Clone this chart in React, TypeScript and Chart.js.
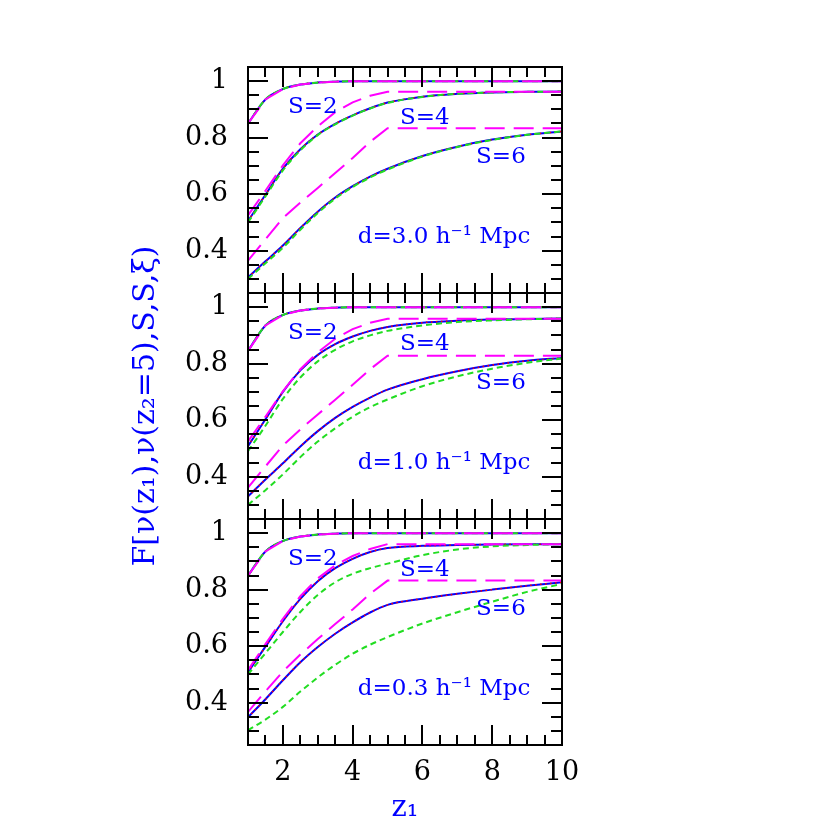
import React, { useEffect, useRef } from 'react';
import { Chart, registerables } from 'chart.js';

Chart.register(...registerables);

// ---------- data ----------
const zValues = [1, 1.5, 2, 2.5, 3, 3.5, 4, 4.5, 5, 6, 7, 8, 9, 10];
const xTickValues = [2, 4, 6, 8, 10];
const xTickLabels = ['2', '4', '6', '8', '10'];
const yTickValues = [0.4, 0.6, 0.8, 1];
const yTickLabels = ['0.4', '0.6', '0.8', '1'];
const panelTexts = ['d=3.0 h\u207B\u00B9 Mpc', 'd=1.0 h\u207B\u00B9 Mpc', 'd=0.3 h\u207B\u00B9 Mpc'];
const sTexts = ['S=2', 'S=4', 'S=6'];
const yTitle = 'F[\u03BD(z\u2081),\u03BD(z\u2082=5),S,S,\u03BE)';
const xTitle = 'z\u2081';

// panel 1: d = 3.0
const p1S2 = [0.85, 0.935, 0.972, 0.988, 0.995, 0.998, 1, 1, 1, 1, 1, 1, 1, 1];
const p1Blue4 = [0.505, 0.598, 0.69, 0.759, 0.811, 0.849, 0.879, 0.904, 0.924, 0.945, 0.955, 0.96, 0.962, 0.963];
const p1Green4 = [0.5, 0.592, 0.684, 0.755, 0.809, 0.847, 0.878, 0.903, 0.923, 0.944, 0.955, 0.96, 0.962, 0.963];
const p1Mag4 = [0.525, 0.612, 0.702, 0.78, 0.84, 0.89, 0.925, 0.948, 0.962, 0.962, 0.962, 0.962, 0.962, 0.962];
const p1Blue6 = [0.305, 0.362, 0.418, 0.48, 0.538, 0.588, 0.628, 0.662, 0.69, 0.735, 0.768, 0.793, 0.81, 0.822];
const p1Green6 = [0.3, 0.355, 0.41, 0.474, 0.533, 0.584, 0.625, 0.659, 0.687, 0.733, 0.767, 0.792, 0.81, 0.822];
const p1Mag6 = [0.365, 0.44, 0.515, 0.57, 0.622, 0.675, 0.728, 0.785, 0.833, 0.833, 0.833, 0.833, 0.833, 0.833];

// panel 2: d = 1.0
const p2S2 = [0.845, 0.935, 0.972, 0.988, 0.995, 0.998, 1, 1, 1, 1, 1, 1, 1, 1];
const p2Blue4 = [0.508, 0.603, 0.7, 0.776, 0.831, 0.869, 0.896, 0.916, 0.93, 0.945, 0.952, 0.956, 0.958, 0.96];
const p2Green4 = [0.49, 0.58, 0.675, 0.751, 0.808, 0.849, 0.879, 0.9, 0.916, 0.935, 0.947, 0.953, 0.957, 0.96];
const p2Mag4 = [0.525, 0.612, 0.702, 0.78, 0.84, 0.888, 0.922, 0.945, 0.959, 0.959, 0.959, 0.959, 0.959, 0.959];
const p2Blue6 = [0.33, 0.39, 0.447, 0.507, 0.561, 0.608, 0.647, 0.68, 0.708, 0.745, 0.773, 0.795, 0.81, 0.82];
const p2Green6 = [0.3, 0.352, 0.408, 0.469, 0.524, 0.571, 0.612, 0.646, 0.673, 0.72, 0.755, 0.782, 0.803, 0.818];
const p2Mag6 = [0.361, 0.436, 0.51, 0.567, 0.62, 0.672, 0.725, 0.78, 0.828, 0.828, 0.828, 0.828, 0.828, 0.828];

// panel 3: d = 0.3
const p3S2 = [0.849, 0.935, 0.972, 0.988, 0.995, 0.998, 1, 1, 1, 1, 1, 1, 1, 1];
const p3Blue4 = [0.508, 0.598, 0.688, 0.767, 0.83, 0.876, 0.909, 0.933, 0.947, 0.955, 0.958, 0.96, 0.961, 0.961];
const p3Green4 = [0.5, 0.575, 0.65, 0.721, 0.781, 0.826, 0.856, 0.876, 0.892, 0.922, 0.942, 0.953, 0.958, 0.961];
const p3Mag4 = [0.515, 0.607, 0.697, 0.777, 0.84, 0.886, 0.919, 0.944, 0.961, 0.961, 0.961, 0.961, 0.961, 0.961];
const p3Blue6 = [0.348, 0.412, 0.479, 0.543, 0.597, 0.644, 0.684, 0.719, 0.746, 0.768, 0.785, 0.8, 0.814, 0.826];
const p3Green6 = [0.302, 0.34, 0.385, 0.439, 0.489, 0.534, 0.573, 0.605, 0.632, 0.68, 0.72, 0.757, 0.792, 0.82];
const p3Mag6 = [0.367, 0.44, 0.51, 0.57, 0.625, 0.678, 0.73, 0.785, 0.832, 0.832, 0.832, 0.832, 0.832, 0.832];

const panels = [
  { text: panelTexts[0], blue: [p1S2, p1Blue4, p1Blue6], green: [p1S2, p1Green4, p1Green6], mag: [p1S2, p1Mag4, p1Mag6] },
  { text: panelTexts[1], blue: [p2S2, p2Blue4, p2Blue6], green: [p2S2, p2Green4, p2Green6], mag: [p2S2, p2Mag4, p2Mag6] },
  { text: panelTexts[2], blue: [p3S2, p3Blue4, p3Blue6], green: [p3S2, p3Green4, p3Green6], mag: [p3S2, p3Mag4, p3Mag6] },
];

// ---------- layout / style ----------
const W = 830;
const H = 830;
const PLOT_LEFT = 248;
const PLOT_RIGHT = 562;
const PANEL_TOP = 67;
const PANEL_H = 226;
const X_MIN = 1;
const X_MAX = 10;
const Y_MIN = 0.25;
const Y_MAX = 1.05;
const SERIF = "'DejaVu Serif', serif";
const BLUE = '#0000ff';
const RED = '#ff0000';
const GREEN = '#22dd22';
const MAGENTA = '#ff00ff';

// text anchors in data space: [x, y]
const labelAnchors = {
  s: [[2.86, 0.91], [6.07, 0.868], [8.25, 0.733]],
  d: [6.62, 0.447],
};

const toPts = (ys: number[]) => zValues.map((x, i) => ({ x, y: ys[i] }));

const framePlugin = {
  id: 'frameTicks',
  afterDraw(chart: any) {
    const { ctx, chartArea } = chart;
    const { left, right, top, bottom } = chartArea;
    const xs = chart.scales.x;
    const ys = chart.scales.y;
    ctx.save();
    ctx.strokeStyle = '#000';
    ctx.lineWidth = 2;
    ctx.beginPath();
    // y ticks every 0.05, long every 0.2
    for (let k = 5; k <= 21; k++) {
      const v = k * 0.05;
      const py = Math.round(ys.getPixelForValue(v));
      if (py <= top + 1 || py >= bottom - 1) continue;
      const len = k % 4 === 0 ? 20 : 11;
      ctx.moveTo(left, py);
      ctx.lineTo(left + len, py);
      ctx.moveTo(right, py);
      ctx.lineTo(right - len, py);
    }
    // x ticks every 0.5, long every 2
    for (let k = 3; k < 20; k++) {
      const v = k * 0.5;
      const px = Math.round(xs.getPixelForValue(v));
      const len = k % 4 === 0 ? 20 : 10;
      ctx.moveTo(px, bottom);
      ctx.lineTo(px, bottom - len);
      ctx.moveTo(px, top);
      ctx.lineTo(px, top + len);
    }
    ctx.stroke();
    ctx.strokeRect(left, top, right - left, bottom - top);

    // annotations
    const idx = chart.options.plugins.frameTicks.panel;
    ctx.fillStyle = BLUE;
    ctx.font = `23px ${SERIF}`;
    ctx.textAlign = 'center';
    ctx.textBaseline = 'middle';
    sTexts.forEach((t, i) => {
      const [ax, ay] = labelAnchors.s[i];
      ctx.fillText(t, xs.getPixelForValue(ax), ys.getPixelForValue(ay));
    });
    ctx.fillText(panels[idx].text, xs.getPixelForValue(labelAnchors.d[0]), ys.getPixelForValue(labelAnchors.d[1]));
    ctx.restore();
  },
};

function buildConfig(idx: number) {
  const p = panels[idx];
  const isBottom = idx === 2;
  const isMiddle = idx === 1;
  const panelTop = PANEL_TOP + idx * PANEL_H;
  const panelBottom = panelTop + PANEL_H;
  const datasets: any[] = [];
  for (let s = 0; s < 3; s++) {
    datasets.push({
      data: toPts(p.mag[s]), borderColor: MAGENTA, borderWidth: 2, borderDash: [20, 9],
      tension: 0, pointRadius: 0, order: 0,
    });
    datasets.push({
      data: toPts(p.green[s]), borderColor: GREEN, borderWidth: 2, borderDash: [6, 4],
      cubicInterpolationMode: 'monotone', pointRadius: 0, order: 1,
    });
    datasets.push({
      data: toPts(p.blue[s]), borderColor: RED, borderWidth: 1.5, borderDash: [1.5, 3.5],
      cubicInterpolationMode: 'monotone', pointRadius: 0, order: 2,
    });
    datasets.push({
      data: toPts(p.blue[s]), borderColor: BLUE, borderWidth: 2,
      cubicInterpolationMode: 'monotone', pointRadius: 0, order: 3,
    });
  }
  return {
    type: 'line',
    data: { datasets },
    plugins: [framePlugin],
    options: {
      responsive: false,
      devicePixelRatio: 1,
      animation: false,
      events: [],
      layout: {
        padding: { left: 0, right: W - PLOT_RIGHT, top: panelTop, bottom: isBottom ? 0 : H - panelBottom },
      },
      plugins: {
        legend: { display: false },
        tooltip: { enabled: false },
        frameTicks: { panel: idx },
      },
      scales: {
        x: {
          type: 'linear',
          min: X_MIN,
          max: X_MAX,
          grid: { display: false, drawTicks: false },
          border: { display: false },
          ticks: {
            display: isBottom,
            padding: 12,
            color: '#000',
            font: { family: SERIF, size: 27 },
            callback: (_v: any, i: number) => xTickLabels[i],
          },
          afterBuildTicks: (scale: any) => {
            scale.ticks = xTickValues.map((v) => ({ value: v }));
          },
          title: {
            display: isBottom,
            text: xTitle,
            color: BLUE,
            font: { family: SERIF, size: 29 },
            padding: { top: 0, bottom: 4 },
          },
          afterFit: (scale: any) => {
            scale.height = isBottom ? H - panelBottom : 0;
          },
        },
        y: {
          type: 'linear',
          min: Y_MIN,
          max: Y_MAX,
          grid: { display: false, drawTicks: false },
          border: { display: false },
          ticks: {
            padding: 20,
            color: '#000',
            font: { family: SERIF, size: 27 },
            callback: (_v: any, i: number) => yTickLabels[i],
          },
          afterBuildTicks: (scale: any) => {
            scale.ticks = yTickValues.map((v) => ({ value: v }));
          },
          title: {
            display: isMiddle,
            text: yTitle,
            color: BLUE,
            font: { family: SERIF, size: 30 },
            padding: { top: 128, bottom: 0 },
          },
          afterFit: (scale: any) => {
            scale.width = PLOT_LEFT;
          },
        },
      },
    },
  };
}

export default function App() {
  const r0 = useRef<HTMLCanvasElement | null>(null);
  const r1 = useRef<HTMLCanvasElement | null>(null);
  const r2 = useRef<HTMLCanvasElement | null>(null);
  const refs = [r0, r1, r2];
  useEffect(() => {
    const charts = refs.map((r, i) => new Chart(r.current as HTMLCanvasElement, buildConfig(i) as any));
    return () => charts.forEach((c) => c.destroy());
  }, []);
  return (
    <div style={{ position: 'fixed', left: 0, top: 0, width: W, height: H, background: '#fff' }}>
      {refs.map((r, i) => (
        <canvas key={i} ref={r} width={W} height={H} style={{ position: 'absolute', left: 0, top: 0 }} />
      ))}
    </div>
  );
}
